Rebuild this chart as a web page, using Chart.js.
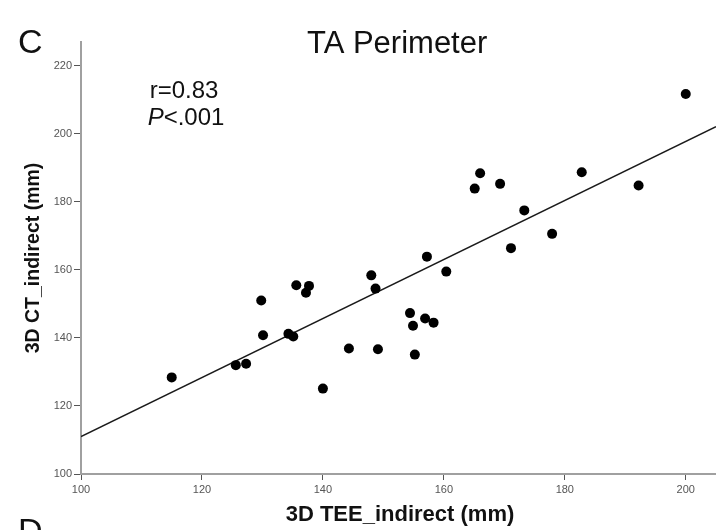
<!DOCTYPE html>
<html>
<head>
<meta charset="utf-8">
<script src="https://cdn.jsdelivr.net/npm/chart.js@4/dist/chart.umd.min.js"></script>
<style>
  body { margin: 0; background: #fff; }
  canvas { display: block; }
</style>
</head>
<body>
<canvas id="chart" width="716" height="530"></canvas>
<script>
// TEE vs CT perimeter measurements (mm)
const teeValues = [200.0, 182.8, 192.2, 166.0, 165.1, 169.3, 173.3, 177.9, 171.1, 157.2,
                   160.4, 148.0, 148.7, 154.4, 156.9, 154.9, 158.3, 149.1, 155.2, 115.0,
                   125.6, 127.3, 129.8, 130.1, 134.3, 135.1, 135.6, 137.7, 137.2, 144.3, 140.0];
const ctValues  = [211.7, 188.7, 184.8, 188.4, 183.9, 185.3, 177.5, 170.6, 166.4, 163.9,
                   159.5, 158.4, 154.5, 147.3, 145.7, 143.6, 144.5, 136.7, 135.1, 128.4,
                   132.0, 132.4, 151.0, 140.8, 141.2, 140.4, 155.5, 155.3, 153.3, 136.9, 125.1];

// fit line end points
const fitX = [100, 205];
const fitY = [111.0, 202.1];

const xRange = [100, 205];
const yRange = [100, 227];
const tickStep = 20;

const points = teeValues.map((x, i) => ({ x, y: ctValues[i] }));
const fitLine = fitX.map((x, i) => ({ x, y: fitY[i] }));

const FONT = '"Liberation Sans", Arial, sans-serif';

const keepRound = s => { s.ticks = s.ticks.filter(t => t.value % tickStep === 0); };

const labels = {
  id: 'labels',
  afterDraw(chart) {
    const ctx = chart.ctx;
    ctx.save();
    ctx.fillStyle = '#111';
    ctx.textBaseline = 'alphabetic';

    ctx.textAlign = 'left';
    ctx.font = '34px ' + FONT;
    ctx.fillText('C', 18, 53);
    ctx.fillText('D', 18, 542);

    ctx.font = '31px ' + FONT;
    ctx.fillText('TA Perimeter', 307, 53);

    ctx.textAlign = 'center';
    ctx.font = '24px ' + FONT;
    ctx.fillText('r=0.83', 184, 98);

    // italic P followed by regular text
    ctx.textAlign = 'left';
    ctx.font = 'italic 24px ' + FONT;
    const pw = ctx.measureText('P').width;
    ctx.font = '24px ' + FONT;
    const rw = ctx.measureText('<.001').width;
    const px = 186 - (pw + rw) / 2;
    ctx.font = 'italic 24px ' + FONT;
    ctx.fillText('P', px, 125);
    ctx.font = '24px ' + FONT;
    ctx.fillText('<.001', px + pw, 125);

    ctx.textAlign = 'center';
    ctx.font = 'bold 22px ' + FONT;
    ctx.fillText('3D TEE_indirect (mm)', 400, 521);

    ctx.translate(39, 258);
    ctx.rotate(-Math.PI / 2);
    ctx.font = 'bold 19.5px ' + FONT;
    ctx.fillText('3D CT_indirect (mm)', 0, 0);
    ctx.restore();
  }
};

new Chart(document.getElementById('chart'), {
  type: 'scatter',
  data: {
    datasets: [
      {
        data: points,
        backgroundColor: '#000',
        borderWidth: 0,
        pointRadius: 5,
        pointHoverRadius: 5
      },
      {
        type: 'line',
        data: fitLine,
        borderColor: '#1a1a1a',
        borderWidth: 1.5,
        pointRadius: 0,
        fill: false
      }
    ]
  },
  options: {
    responsive: false,
    animation: false,
    events: [],
    layout: { autoPadding: false, padding: { top: 42, right: 0, left: 0, bottom: 0 } },
    plugins: {
      legend: { display: false },
      title: { display: false },
      tooltip: { enabled: false }
    },
    scales: {
      x: {
        type: 'linear',
        min: xRange[0],
        max: xRange[1],
        afterBuildTicks: keepRound,
        afterFit: s => { s.height = 56; },
        ticks: { stepSize: tickStep, color: '#555', font: { family: FONT, size: 11 }, padding: 3, maxRotation: 0 },
        grid: { drawOnChartArea: false, drawTicks: true, tickLength: 6, color: '#555', lineWidth: 1 },
        border: { display: true, color: '#a0a0a0', width: 2 }
      },
      y: {
        type: 'linear',
        min: yRange[0],
        max: yRange[1],
        afterBuildTicks: keepRound,
        afterFit: s => { s.width = 81; },
        ticks: { stepSize: tickStep, color: '#555', font: { family: FONT, size: 11 }, padding: 2 },
        grid: { drawOnChartArea: false, drawTicks: true, tickLength: 7, color: '#555', lineWidth: 1 },
        border: { display: true, color: '#a0a0a0', width: 2 }
      }
    }
  },
  plugins: [labels]
});
</script>
</body>
</html>
